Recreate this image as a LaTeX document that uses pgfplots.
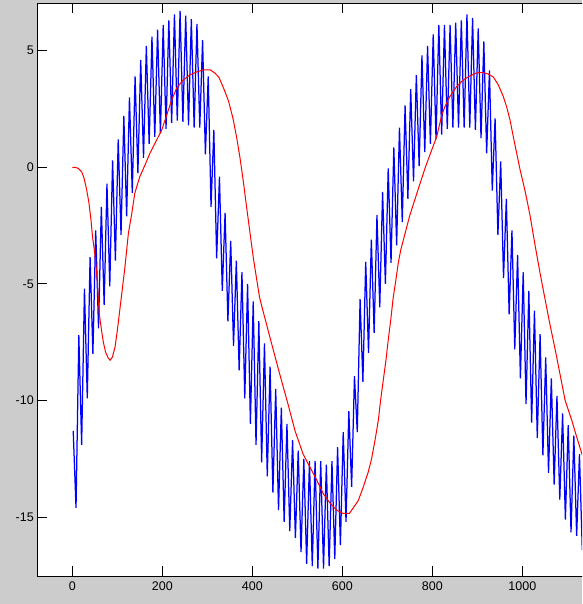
\documentclass[border=0pt]{standalone}
\usepackage{pgfplots}
\pgfplotsset{compat=1.18}
\usepackage{fontspec}
\setmainfont{Liberation Sans}
\definecolor{figgray}{RGB}{204,204,204}

\begin{document}
\begin{tikzpicture}
% the reference is cut off on the right: clip to its frame
\path[use as bounding box, clip] (0,0) rectangle (582pt,604pt);
\fill[figgray] (0,0) rectangle (582pt,604pt);
\begin{axis}[
  at={(37.3pt,28pt)}, anchor=south west,
  scale only axis, width=575pt, height=572.7pt,
  xmin=-77.8, xmax=1200, ymin=-17.52, ymax=7.03,
  xtick={0,200,...,1000}, ytick={-15,-10,-5,0,5},
  tick align=inside, major tick length=10pt,
  tick style={black, line width=1pt},
  axis line style={line width=1pt},
  axis background/.style={fill=white},
  ticklabel style={font=\fontsize{12.5}{14}\selectfont},
  /pgf/number format/assume math mode=true,
  /pgf/number format/1000 sep={},
  scaled ticks=false,
  xticklabel style={yshift=-2pt},
]
\addplot[blue, line width=1.25pt] coordinates {
(2,-11.3) (8.25,-14.6) (14.5,-7.2) (20.75,-11.9) (27,-5.2) (33.25,-9.9)
(39.5,-3.85) (45.75,-8.0) (52,-2.7) (58.25,-6.9) (64.5,-1.7) (70.75,-5.9)
(77,-0.7) (83.25,-5.1) (89.5,0.3) (95.75,-4.0) (102,1.2) (108.25,-2.9)
(114.5,2.2) (120.75,-2.1) (127,3.0) (133.25,-1.1) (139.5,3.9) (145.75,-0.25)
(152,4.6) (158.25,0.4) (164.5,5.2) (170.75,1.0) (177,5.6) (183.25,1.3)
(189.5,5.9) (195.75,1.45) (202,6.1) (208.25,1.65) (214.5,6.3) (220.75,1.9)
(227,6.55) (233.25,2.0) (239.5,6.7) (245.75,1.95) (252,6.5) (258.25,1.8)
(264.5,6.35) (270.75,1.7) (277,6.15) (283.25,1.7) (289.5,5.45) (295.75,0.55)
(302,3.9) (308.25,-1.7) (314.5,1.6) (320.75,-3.9) (327,-0.4) (333.25,-5.3)
(339.5,-1.95) (345.75,-6.6) (352,-3.15) (358.25,-7.65) (364.5,-4.0) (370.75,-8.7)
(377,-4.5) (383.25,-9.9) (389.5,-5.0) (395.75,-11.0) (402,-5.75) (408.25,-11.9)
(414.5,-6.6) (420.75,-12.65) (427,-7.55) (433.25,-13.25) (439.5,-8.55) (445.75,-13.95)
(452,-9.5) (458.25,-14.7) (464.5,-10.3) (470.75,-15.2) (477,-11.0) (483.25,-15.6)
(489.5,-11.7) (495.75,-15.9) (502,-12.15) (508.25,-16.5) (514.5,-12.5) (520.75,-17.0)
(527,-12.6) (533.25,-17.1) (539.5,-12.6) (545.75,-17.2) (552,-12.6) (558.25,-17.2)
(564.5,-12.75) (570.75,-17.1) (577,-12.6) (583.25,-16.8) (589.5,-12.0) (595.75,-16.2)
(602,-11.35) (608.25,-15.2) (614.5,-10.45) (620.75,-13.7) (627,-8.95) (633.25,-11.35)
(639.5,-5.65) (645.75,-9.2) (652,-4.05) (658.25,-7.95) (664.5,-3.1) (670.75,-7.1)
(677,-2.05) (683.25,-6.0) (689.5,-1.05) (695.75,-5.0) (702,-0.05) (708.25,-4.1)
(714.5,0.85) (720.75,-3.35) (727,1.7) (733.25,-2.35) (739.5,2.65) (745.75,-1.35)
(752,3.35) (758.25,-0.6) (764.5,3.95) (770.75,0.05) (777,4.8) (783.25,0.65)
(789.5,5.2) (795.75,1.0) (802,5.7) (808.25,1.2) (814.5,6.1) (820.75,1.4)
(827,6.1) (833.25,1.65) (839.5,6.1) (845.75,1.7) (852,6.2) (858.25,1.7)
(864.5,6.3) (870.75,1.7) (877,6.55) (883.25,1.7) (889.5,6.4) (895.75,1.6)
(902,5.95) (908.25,1.25) (914.5,5.4) (920.75,0.6) (927,4.15) (933.25,-1.0)
(939.5,2.1) (945.75,-2.9) (952,0.25) (958.25,-4.75) (964.5,-1.35) (970.75,-6.3)
(977,-2.7) (983.25,-7.8) (989.5,-3.75) (995.75,-9.05) (1002,-4.5) (1008.25,-10.15)
(1014.5,-5.3) (1020.75,-10.95) (1027,-6.15) (1033.25,-11.6) (1039.5,-7.15) (1045.75,-12.35)
(1052,-8.15) (1058.25,-13.1) (1064.5,-9.05) (1070.75,-13.6) (1077,-9.8) (1083.25,-14.25)
(1089.5,-10.55) (1095.75,-15.1) (1102,-11.05) (1108.25,-15.65) (1114.5,-11.5) (1120.75,-15.8)
(1127,-12.3) (1133.25,-16.4) (1139.5,-12.8) (1145.75,-16.8)
};
\addplot[red, line width=1pt] coordinates {
(0,0) (5,0) (13,-0.04) (21,-0.2) (26,-0.46) (32,-0.97) (37,-1.53) (41.5,-2.26)
(45,-2.99) (49,-3.55) (53,-4.3) (56,-5.0) (58,-5.7) (60,-6.3) (65,-7.0) (69,-7.5)
(74,-7.93) (80,-8.18) (84,-8.27) (89,-8.14) (95,-7.7) (100,-7.0) (105,-6.2)
(110,-5.4) (117,-4.27) (124.6,-2.83) (132,-2.0) (139,-1.1) (150,-0.4) (161.6,0.1)
(172.7,0.61) (187.5,1.17) (198.7,1.6) (209.8,2.24) (220.9,2.89) (232,3.4)
(246.7,3.75) (261.6,3.96) (276.4,4.09) (291,4.18) (306,4.18) (317,4.04) (326,3.85)
(336,3.4) (347,2.85) (357,2.1) (365,1.3) (372.7,0.4) (380,-0.6) (387.6,-1.75)
(395,-2.83) (402,-3.85) (410,-4.84) (416,-5.56) (421,-5.95) (440,-7.35) (460,-8.8)
(480,-10.2) (495,-11.3) (513,-12.3) (528,-12.85) (543,-13.4) (558,-14.0) (573,-14.4)
(587.6,-14.7) (602,-14.84) (615.6,-14.84) (624.4,-14.6) (635.6,-14.28) (646.7,-13.7)
(657.8,-13.05) (665,-12.5) (672.7,-11.7) (680,-10.85) (685,-10.0) (691,-9.13)
(697,-8.27) (702,-7.41) (707.6,-6.55) (713,-5.6) (719,-4.84) (724.4,-4.1)
(729.8,-3.55) (735.6,-3.12) (750,-2.06) (768,-0.98) (784,-0.03) (798.6,0.74)
(809.8,1.31) (821,2.24) (828,2.6) (839,3.03) (854,3.46) (869,3.75) (884,3.92)
(898.7,4.05) (913,4.06) (924,4.0) (935.6,3.87) (946.7,3.53) (957.8,3.03) (965,2.6)
(972.7,2.03) (980,1.31) (986,0.74) (995,-0.1) (1006,-1.0) (1017,-2.05) (1028,-3.3)
(1040,-4.6) (1050,-5.6) (1060,-6.6) (1075,-8.0) (1095,-9.98) (1110,-10.85)
(1121,-11.57) (1132,-12.26) (1150,-13.3) (1200,-16.0)
};
\end{axis}
\end{tikzpicture}
\end{document}
